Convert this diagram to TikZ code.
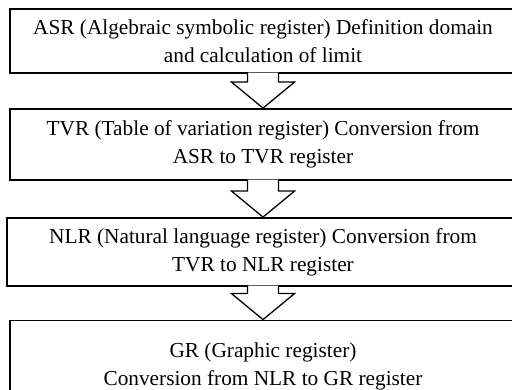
\documentclass[tikz,border=0pt]{standalone}
\usepackage{fontspec}
\setmainfont{Liberation Serif}
\usetikzlibrary{calc}

\begin{document}
\begin{tikzpicture}[x=1pt,y=1pt,
  regbox/.style={draw=black, line width=1.8pt, align=center, inner sep=0pt,
    minimum width=506pt, font=\fontsize{21.3}{28}\selectfont},
  hollow/.style={draw=black, fill=white, line width=1.3pt, line join=miter}]
\useasboundingbox (0,0) rectangle (512,390);
\node[regbox, minimum height=64pt] (asr) at (263,349) {ASR (Algebraic symbolic register) Definition domain\\ and calculation of limit};
\node[regbox, minimum height=71pt] (tvr) at (263,245.5) {TVR (Table of variation register) Conversion from\\ ASR to TVR register};
\node[regbox, minimum height=68pt, minimum width=512pt] (nlr) at (263,138) {NLR (Natural language register) Conversion from\\ TVR to NLR register};
\node[regbox, minimum height=91pt] (gr) at (263,24) {GR (Graphic register)\\ Conversion from NLR to GR register};
% block arrows between the registers
\draw[hollow] ($(asr.south)+(-15.5,1.2)$) -- ($(tvr.north)+(-15.5,26)$) -- ($(tvr.north)+(-31.5,26)$) -- (tvr.north) -- ($(tvr.north)+(31.5,26)$) -- ($(tvr.north)+(15.5,26)$) -- ($(asr.south)+(15.5,1.2)$);
\draw[hollow] ($(tvr.south)+(-15.5,1.2)$) -- ($(nlr.north)+(-15.5,26)$) -- ($(nlr.north)+(-31.5,26)$) -- (nlr.north) -- ($(nlr.north)+(31.5,26)$) -- ($(nlr.north)+(15.5,26)$) -- ($(tvr.south)+(15.5,1.2)$);
\draw[hollow] ($(nlr.south)+(-15.5,1.2)$) -- ($(gr.north)+(-15.5,26)$) -- ($(gr.north)+(-31.5,26)$) -- (gr.north) -- ($(gr.north)+(31.5,26)$) -- ($(gr.north)+(15.5,26)$) -- ($(nlr.south)+(15.5,1.2)$);
\end{tikzpicture}
\end{document}
